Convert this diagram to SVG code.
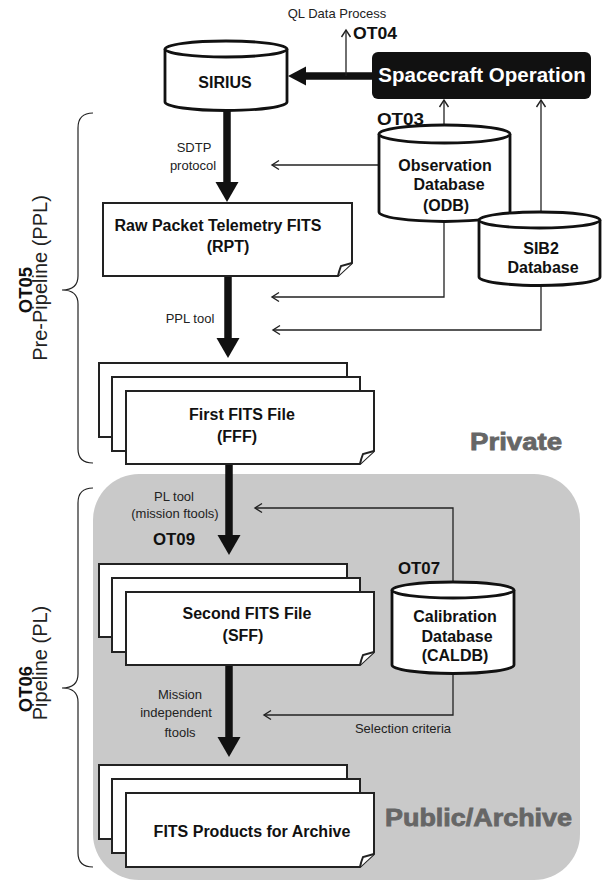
<svg xmlns="http://www.w3.org/2000/svg" width="605" height="888" viewBox="0 0 605 888">
<defs>
<style>
.bold{font-family:"Liberation Sans",Arial,sans-serif;font-weight:bold;font-size:16px;fill:#111;text-anchor:middle}
.reg{font-family:"Liberation Sans",Arial,sans-serif;font-size:13px;fill:#222;text-anchor:middle}
.ot{font-family:"Liberation Sans",Arial,sans-serif;font-weight:bold;font-size:16px;fill:#111}
.big{font-family:"Liberation Sans",Arial,sans-serif;font-weight:bold;font-size:24px;fill:#666;stroke:#666;stroke-width:0.8}
.side{font-family:"Liberation Sans",Arial,sans-serif;font-size:20px;fill:#222;text-anchor:middle}
.sideb{font-family:"Liberation Sans",Arial,sans-serif;font-weight:bold;font-size:18.5px;fill:#111;text-anchor:middle}
.page{fill:#fff;stroke:#222;stroke-width:2}
.cyl{fill:#fff;stroke:#111;stroke-width:2.8}
.thin{fill:none;stroke:#222;stroke-width:1.3;marker-end:url(#open)}
.shaft{stroke:#111;stroke-width:7.5}
.head{fill:#111}
.brace{fill:none;stroke:#222;stroke-width:1.2}
</style>
<marker id="open" viewBox="-9 -6 11 12" refX="0" refY="0" markerWidth="11" markerHeight="12" markerUnits="userSpaceOnUse" orient="auto">
<path d="M-7,-4.5 L0,0 L-7,4.5" fill="none" stroke="#222" stroke-width="1.4"/>
</marker>
</defs>

<rect id="pl-region" x="93" y="474" width="487" height="406" rx="46" fill="#c9c9c9"/>

<g id="braces">
<path class="brace" d="M93,113 Q78,113 78,128 V276 Q78,290 62,290 Q78,290 78,304 V449 Q78,463 93,463"/>
<path class="brace" d="M93,488 Q78,488 78,503 V674 Q78,688 62,688 Q78,688 78,702 V853 Q78,867 93,867"/>
<text class="sideb" transform="translate(32,290) rotate(-90)">OT05</text>
<text class="side" transform="translate(46.5,278) rotate(-90)">Pre-Pipeline (PPL)</text>
<text class="sideb" transform="translate(32,689) rotate(-90)">OT06</text>
<text class="side" transform="translate(46.5,663) rotate(-90)">Pipeline (PL)</text>
</g>

<g id="connectors">
<line class="shaft" x1="372" y1="76" x2="304" y2="76"/>
<polygon class="head" points="288,76 306,66.5 306,85.5"/>
<line class="shaft" x1="227" y1="108" x2="227" y2="184"/>
<polygon class="head" points="227,202 215.5,182 238.5,182"/>
<line class="shaft" x1="228" y1="276" x2="228" y2="340"/>
<polygon class="head" points="228,358 216.5,338 239.5,338"/>
<line class="shaft" x1="229" y1="464" x2="229" y2="537"/>
<polygon class="head" points="229,555 217.5,535 240.5,535"/>
<line class="shaft" x1="229" y1="665" x2="229" y2="739"/>
<polygon class="head" points="229,757 217.5,737 240.5,737"/>

<polyline class="thin" points="346,76 346,30"/>
<polyline class="thin" points="444,125 444,100"/>
<polyline class="thin" points="541,212 541,100"/>
<polyline class="thin" points="379,165 272,165"/>
<polyline class="thin" points="444,221 444,297 272,297"/>
<polyline class="thin" points="541,285 541,330 273,330"/>
<polyline class="thin" points="453,582 453,508 255,508"/>
<polyline class="thin" points="453,673 453,715 264,715"/>

<text class="reg" x="337" y="18">QL Data Process</text>
<text class="ot" x="353" y="39" textLength="44" lengthAdjust="spacingAndGlyphs">OT04</text>
<text class="ot" x="377" y="125" textLength="47" lengthAdjust="spacingAndGlyphs">OT03</text>
<text class="reg" x="194" y="152">SDTP</text>
<text class="reg" x="193" y="170">protocol</text>
<text class="reg" x="190" y="323">PPL tool</text>
<text class="reg" x="174" y="501">PL tool</text>
<text class="reg" x="175" y="518">(mission ftools)</text>
<text class="ot" x="153" y="545" textLength="42" lengthAdjust="spacingAndGlyphs">OT09</text>
<text class="ot" x="398" y="574" textLength="42" lengthAdjust="spacingAndGlyphs">OT07</text>
<text class="reg" x="180" y="699">Mission</text>
<text class="reg" x="176" y="717">independent</text>
<text class="reg" x="180" y="737">ftools</text>
<text class="reg" x="403" y="733">Selection criteria</text>
</g>

<g id="spacecraft">
<rect x="372" y="52" width="219" height="47" rx="6" fill="#111"/>
<text class="bold" x="482" y="82" style="fill:#fff;font-size:20.5px">Spacecraft Operation</text>
</g>

<g id="sirius">
<path class="cyl" d="M165,49 V102 A61,8.5 0 0 0 287,102 V49"/>
<ellipse class="cyl" cx="226" cy="49" rx="61" ry="8"/>
<text class="bold" x="225" y="88">SIRIUS</text>
</g>

<g id="odb">
<path class="cyl" d="M379,134 V212 A65.5,9.5 0 0 0 510,212 V134"/>
<ellipse class="cyl" cx="444.5" cy="134" rx="65.5" ry="9"/>
<text class="bold" x="445" y="171">Observation</text>
<text class="bold" x="449" y="190">Database</text>
<text class="bold" x="446" y="211">(ODB)</text>
</g>

<g id="sib2">
<path class="cyl" d="M479,220 V277 A60.5,8.5 0 0 0 600,277 V220"/>
<ellipse class="cyl" cx="539.5" cy="220" rx="60.5" ry="8"/>
<text class="bold" x="541" y="254">SIB2</text>
<text class="bold" x="543" y="273">Database</text>
</g>

<g id="rpt">
<path class="page" d="M103,203 H352 V263 L338,276 H103 Z"/>
<path class="page" d="M352,263 L341,266 Q339,271 338,276"/>
<text class="bold" x="218" y="231">Raw Packet Telemetry FITS</text>
<text class="bold" x="228" y="252">(RPT)</text>
</g>

<g id="fff">
<rect class="page" x="99" y="363" width="248" height="74"/>
<rect class="page" x="112" y="377" width="248" height="74"/>
<path class="page" d="M126,391 H374 V451 L360,464 H126 Z"/>
<path class="page" d="M374,451 L363,454 Q361,459 360,464"/>
<text class="bold" x="242" y="420">First FITS File</text>
<text class="bold" x="237" y="442">(FFF)</text>
</g>

<text id="private" class="big" x="470" y="450" textLength="92" lengthAdjust="spacingAndGlyphs">Private</text>

<g id="sff">
<rect class="page" x="99" y="564" width="248" height="73"/>
<rect class="page" x="112" y="578" width="248" height="74"/>
<path class="page" d="M126,592 H374 V652 L360,665 H126 Z"/>
<path class="page" d="M374,652 L363,655 Q361,660 360,665"/>
<text class="bold" x="247" y="619">Second FITS File</text>
<text class="bold" x="243" y="641">(SFF)</text>
</g>

<g id="caldb">
<path class="cyl" d="M392,590 V665 A61,8.5 0 0 0 514,665 V590"/>
<ellipse class="cyl" cx="453" cy="590" rx="61" ry="8"/>
<text class="bold" x="455" y="622">Calibration</text>
<text class="bold" x="457" y="642">Database</text>
<text class="bold" x="455" y="661">(CALDB)</text>
</g>

<g id="products">
<rect class="page" x="99" y="765" width="248" height="74"/>
<rect class="page" x="112" y="779" width="248" height="74"/>
<path class="page" d="M126,793 H374 V854 L360,867 H126 Z"/>
<path class="page" d="M374,854 L363,857 Q361,862 360,867"/>
<text class="bold" x="252" y="837">FITS Products for Archive</text>
</g>

<text id="public" class="big" x="385" y="826" textLength="187" lengthAdjust="spacingAndGlyphs">Public/Archive</text>
</svg>
